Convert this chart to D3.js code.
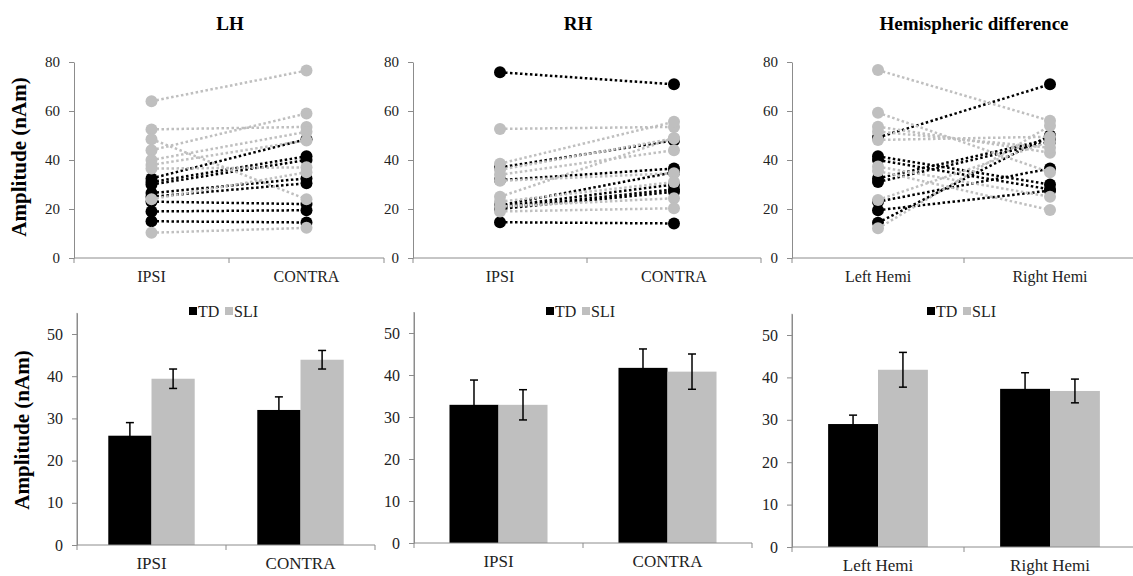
<!DOCTYPE html>
<html>
<head>
<meta charset="utf-8">
<script src="https://cdn.jsdelivr.net/npm/d3@7"></script>
<style>
  body { margin: 0; background: #fff; }
  svg { display: block; font-family: "Liberation Serif", "Times New Roman", serif; }
  svg text { font-family: "Liberation Serif", "Times New Roman", serif; }
  .axis path, .axis line { stroke: #8c8c8c; }
  .axis text { fill: #222; }
</style>
</head>
<body>
<svg width="1133" height="576"></svg>
<script>
// ---- data ----
var titles = ["LH", "RH", "Hemispheric difference"];
var catsLR = ["IPSI", "CONTRA"];
var catsHemi = ["Left Hemi", "Right Hemi"];
var groups = ["TD", "SLI"];

// individual subjects, [first category, second category]
var lhTD = [[32.5, 48.5], [31, 41.5], [30, 40], [26.5, 32.5], [25, 30.5], [23, 22], [19, 19.5], [15, 14.5]];
var lhSLI = [[64, 76.5], [52.5, 53.5], [48.5, 24], [44, 59], [40, 51.5], [38, 48], [36.5, 37], [24, 35], [10.3, 12.3]];
var rhTD = [[75.8, 70.9], [37, 48], [31.8, 36.5], [21.5, 35], [21, 30], [20.5, 28], [20, 27], [14.6, 14.1]];
var rhSLI = [[52.7, 53.5], [38.5, 55.6], [36, 48.8], [34, 44], [31.5, 34.6], [25, 49], [23, 31], [21, 24.4], [19, 20.3]];
var hemiTD = [[49.2, 70.9], [41.5, 30], [40, 28], [32.5, 48.5], [31, 47.5], [23, 36.5], [19.5, 27.5], [14.4, 50]];
var hemiSLI = [[76.7, 56], [59.3, 35], [53.6, 43], [51.6, 45], [48.2, 49.5], [37.3, 25], [35.5, 19.6], [23.7, 47.5], [12.1, 54]];

// group means and error bars
var lhMeanTD = [25.9, 32.0], lhErrTD = [3.1, 3.1];
var lhMeanSLI = [39.4, 43.9], lhErrSLI = [2.3, 2.2];
var rhMeanTD = [32.9, 41.7], rhErrTD = [5.9, 4.5];
var rhMeanSLI = [32.9, 40.8], rhErrSLI = [3.6, 4.2];
var hemiMeanTD = [29.0, 37.3], hemiErrTD = [2.1, 3.8];
var hemiMeanSLI = [41.8, 36.8], hemiErrSLI = [4.1, 2.8];

var yTicksTop = [0, 20, 40, 60, 80];
var yTicksBottom = [0, 10, 20, 30, 40, 50];

var colors = { TD: "#000000", SLI: "#bfbfbf" };

var svg = d3.select("svg");

// layout of the six panels
var topPanels = [
  { x0: 74, x1: 384, titleX: 230, cats: catsLR, td: lhTD, sli: lhSLI, ylabel: true },
  { x0: 413, x1: 761, titleX: 578, cats: catsLR, td: rhTD, sli: rhSLI },
  { x0: 792, x1: 1136, titleX: 974, cats: catsHemi, td: hemiTD, sli: hemiSLI }
];
var bottomPanels = [
  { x0: 77, x1: 375, yBase: 545, y50: 334, cats: catsLR, mTD: lhMeanTD, eTD: lhErrTD, mSLI: lhMeanSLI, eSLI: lhErrSLI, ylabel: true },
  { x0: 414, x1: 752, yBase: 543, y50: 333, cats: catsLR, mTD: rhMeanTD, eTD: rhErrTD, mSLI: rhMeanSLI, eSLI: rhErrSLI },
  { x0: 792, x1: 1136, yBase: 547, y50: 335, cats: catsHemi, mTD: hemiMeanTD, eTD: hemiErrTD, mSLI: hemiMeanSLI, eSLI: hemiErrSLI }
];

function drawXAxis(g, x, x0, x1, y0, fontSize, labelDy) {
  var ax = g.append("g").attr("class", "axis");
  ax.append("line").attr("x1", x0).attr("x2", x1).attr("y1", y0).attr("y2", y0);
  var tickPos = x.domain().map(function (c) { return x(c); }).concat([x1]);
  ax.selectAll("line.tk").data(tickPos).enter().append("line")
    .attr("class", "tk")
    .attr("x1", function (d) { return d; }).attr("x2", function (d) { return d; })
    .attr("y1", y0).attr("y2", y0 + 5);
  ax.selectAll("text").data(x.domain()).enter().append("text")
    .attr("x", function (d) { return x(d) + x.bandwidth() / 2; })
    .attr("y", y0 + labelDy)
    .attr("text-anchor", "middle")
    .style("font-size", fontSize + "px")
    .text(function (d) { return d; });
}

function drawYAxis(g, y, x0, ticks, fontSize) {
  var a = g.append("g").attr("class", "axis")
    .attr("transform", "translate(" + x0 + ",0)")
    .call(d3.axisLeft(y).tickValues(ticks).tickSize(5).tickSizeOuter(0).tickPadding(9));
  a.attr("font-family", null).attr("font-size", null);
  a.selectAll("text")
    .style("font-family", "'Liberation Serif', 'Times New Roman', serif")
    .style("font-size", fontSize + "px");
}

// ---- top row: paired dot plots ----
topPanels.forEach(function (p, i) {
  var g = svg.append("g");
  var y = d3.scaleLinear().domain([0, 80]).range([258, 62]);
  var x = d3.scaleBand().domain(p.cats).range([p.x0, p.x1]);
  var cx = function (j) { return x(p.cats[j]) + x.bandwidth() / 2; };

  drawYAxis(g, y, p.x0, yTicksTop, 15);
  drawXAxis(g, x, p.x0, p.x1, 258, 16, 24);

  g.append("text")
    .attr("x", p.titleX).attr("y", 30)
    .attr("text-anchor", "middle")
    .style("font-size", "19px").style("font-weight", "bold")
    .text(titles[i]);

  if (p.ylabel) {
    g.append("text")
      .attr("transform", "translate(26,157) rotate(-90)")
      .attr("text-anchor", "middle")
      .style("font-size", "21px").style("font-weight", "bold")
      .text("Amplitude (nAm)");
  }

  var subjects = p.td.map(function (d) { return { g: "TD", v: d }; })
    .concat(p.sli.map(function (d) { return { g: "SLI", v: d }; }));

  var s = g.selectAll("g.subj").data(subjects).enter().append("g").attr("class", "subj");
  s.append("line")
    .attr("x1", cx(0)).attr("x2", cx(1))
    .attr("y1", function (d) { return y(d.v[0]); })
    .attr("y2", function (d) { return y(d.v[1]); })
    .attr("stroke", function (d) { return colors[d.g]; })
    .attr("stroke-width", 2.5)
    .attr("stroke-dasharray", "2.5,2.5");
  s.selectAll("circle").data(function (d) { return d.v.map(function (v) { return { g: d.g, v: v }; }); })
    .enter().append("circle")
    .attr("cx", function (d, j) { return cx(j); })
    .attr("cy", function (d) { return y(d.v); })
    .attr("r", 6)
    .attr("fill", function (d) { return colors[d.g]; });
});

// ---- bottom row: bar charts ----
bottomPanels.forEach(function (p) {
  var g = svg.append("g");
  var yTop = p.yBase - 55 * (p.yBase - p.y50) / 50;
  var y = d3.scaleLinear().domain([0, 55]).range([p.yBase, yTop]);
  var x = d3.scaleBand().domain(p.cats).range([p.x0, p.x1]).paddingInner(0.42).paddingOuter(0.21);
  var xg = d3.scaleBand().domain(groups).range([0, x.bandwidth()]);
  // axis tick positions sit at the category boundaries
  var xt = d3.scaleBand().domain(p.cats).range([p.x0, p.x1]);

  var rows = [];
  p.cats.forEach(function (c, j) {
    rows.push({ c: c, g: "TD", m: p.mTD[j], e: p.eTD[j] });
    rows.push({ c: c, g: "SLI", m: p.mSLI[j], e: p.eSLI[j] });
  });

  g.selectAll("rect.bar").data(rows).enter().append("rect")
    .attr("class", "bar")
    .attr("x", function (d) { return x(d.c) + xg(d.g); })
    .attr("width", xg.bandwidth())
    .attr("y", function (d) { return y(d.m); })
    .attr("height", function (d) { return y(0) - y(d.m); })
    .attr("fill", function (d) { return colors[d.g]; });

  var eb = g.selectAll("g.err").data(rows).enter().append("g").attr("class", "err")
    .attr("stroke", "#000").attr("stroke-width", 1.5);
  var ex = function (d) { return x(d.c) + xg(d.g) + xg.bandwidth() / 2; };
  eb.append("line")
    .attr("x1", ex).attr("x2", ex)
    .attr("y1", function (d) { return y(d.m + d.e); })
    .attr("y2", function (d) { return y(d.m - d.e); });
  eb.append("line")
    .attr("x1", function (d) { return ex(d) - 4; }).attr("x2", function (d) { return ex(d) + 4; })
    .attr("y1", function (d) { return y(d.m + d.e); }).attr("y2", function (d) { return y(d.m + d.e); });
  eb.append("line")
    .attr("x1", function (d) { return ex(d) - 4; }).attr("x2", function (d) { return ex(d) + 4; })
    .attr("y1", function (d) { return y(d.m - d.e); }).attr("y2", function (d) { return y(d.m - d.e); });

  var yAx = g.append("g").attr("class", "axis");
  yAx.append("line").attr("x1", p.x0).attr("x2", p.x0).attr("y1", yTop).attr("y2", p.yBase);
  drawYAxis(g, y, p.x0, yTicksBottom, 16);
  drawXAxis(g, xt, p.x0, p.x1, p.yBase, 17, 24);

  if (p.ylabel) {
    g.append("text")
      .attr("transform", "translate(29,430) rotate(-90)")
      .attr("text-anchor", "middle")
      .style("font-size", "21px").style("font-weight", "bold")
      .text("Amplitude (nAm)");
  }

  // legend
  var lg = g.append("g").attr("transform", "translate(" + ((p.x0 + p.x1) / 2 - 37) + ",311)");
  var item = lg.selectAll("g").data(groups).enter().append("g")
    .attr("transform", function (d, k) { return "translate(" + (k * 36) + ",0)"; });
  item.append("rect").attr("x", 0).attr("y", -4).attr("width", 8).attr("height", 8)
    .attr("fill", function (d) { return colors[d]; });
  item.append("text").attr("x", 9).attr("y", 5.5)
    .style("font-size", "16px").attr("fill", "#222")
    .text(function (d) { return d; });
});
</script>
</body>
</html>
